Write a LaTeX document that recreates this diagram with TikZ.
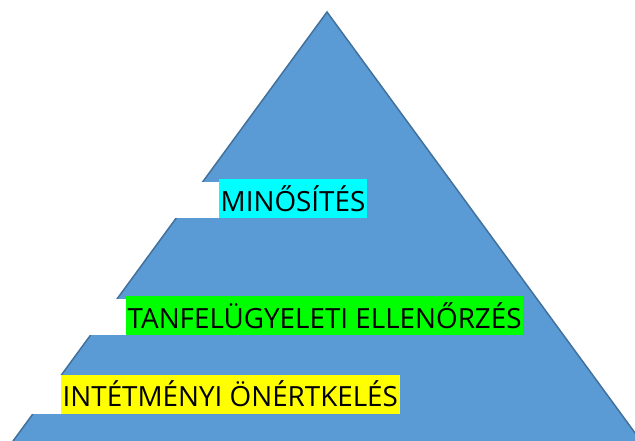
\documentclass[tikz,border=0pt]{standalone}
\usepackage{fontspec}
\setmainfont{Open Sans}
\definecolor{pyrfill}{HTML}{5B9BD5}
\definecolor{pyredge}{HTML}{41719C}
\definecolor{hlcyan}{HTML}{00FFFF}
\definecolor{hlgreen}{HTML}{00FF00}
\definecolor{hlyellow}{HTML}{FFFF00}

\begin{document}
\begin{tikzpicture}[x=1pt, y=-1pt,
  level/.style={anchor=west, inner sep=1.5pt, minimum height=39pt,
                font=\fontsize{27.8}{30}\selectfont, text=black},
  gap/.style={fill=white}
]
  \useasboundingbox (0,0) rectangle (635,441);
  \clip (0,0) rectangle (635,441);
  % pyramid
  \draw[fill=pyrfill, draw=pyredge, line width=1.5pt]
    (327,12) coordinate (apex) -- (-14,478) -- (668,478) -- cycle;
  % labels
  \node[level, fill=hlcyan]   (top) at (219,198.5) {MINŐSÍTÉS};
  \node[level, fill=hlgreen]  (mid) at (126,315.5) {TANFELÜGYELETI ELLENŐRZÉS};
  \node[level, fill=hlyellow] (low) at (61,394)    {INTÉTMÉNYI ÖNÉRTKELÉS};
  % white boxes left of the labels
  \fill[gap] (0,182) rectangle (top.south west);
  \fill[gap] (0,299) rectangle (mid.south west);
  \fill[gap] (0,375) rectangle (low.south west);
\end{tikzpicture}
\end{document}
